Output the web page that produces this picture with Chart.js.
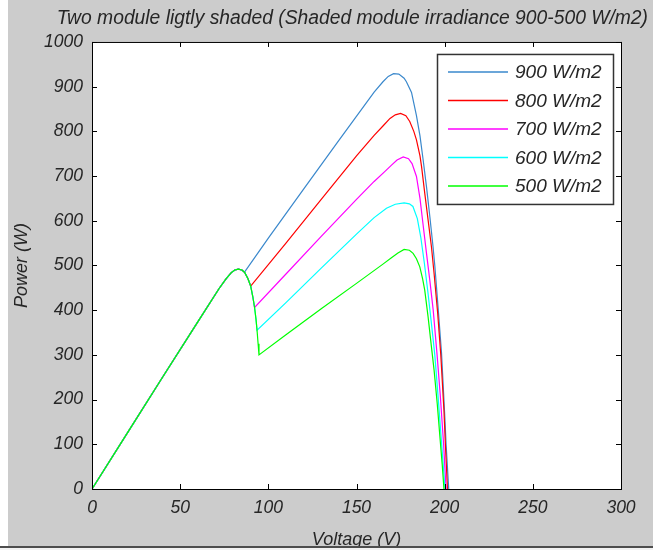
<!DOCTYPE html>
<html>
<head>
<meta charset="utf-8">
<title>P-V curves</title>
<script src="https://cdn.jsdelivr.net/npm/chart.js@4.4.1/dist/chart.umd.min.js"></script>
<style>
  html, body { margin: 0; padding: 0; background: #fff; }
  #wrap { width: 653px; height: 550px; }
</style>
</head>
<body>
<div id="wrap"><canvas id="pv" width="653" height="550"></canvas></div>
<script>
// irradiance on the shaded module
const labels = ["900 W/m2", "800 W/m2", "700 W/m2", "600 W/m2", "500 W/m2"];
const colors = ["#3a88cc", "#ff0000", "#ff00ff", "#00ffff", "#00ff00"];

// first (unshaded) module hump, shared by all curves up to their knee
const commonV = [0, 20, 40, 60, 72, 76, 79, 81, 83, 85, 86.5, 88.4, 90, 91.2, 92.2, 93, 93.6, 94.2, 94.7];
const commonP = [0, 125, 250, 374, 448, 470, 484, 490, 492, 490, 485, 471, 454, 430, 406, 380, 355, 325, 300];
// index in the common part where each curve turns up again
const knee = [10, 12, 14, 16, 18];

// second hump, per shaded irradiance
const v900 = [100, 120, 140, 160, 165, 168, 171, 174, 177, 178.3, 181.2, 184, 186, 187.8, 189.7, 191.6, 193.4, 194.4, 196.3, 198.2, 200.1, 200.8, 202.3];
const p900 = [561, 671, 780, 888, 911, 923, 929, 928, 919, 911, 887, 835, 790, 736, 676, 609, 542, 500, 405, 305, 160, 100, 0];

const v800 = [110, 130, 150, 160, 165, 169, 172, 175, 178, 180.2, 182.5, 184, 186, 186.9, 188.7, 190.6, 192.5, 194, 196, 197.8, 199.6, 200.4, 201.6];
const p800 = [550, 648, 745, 791, 812, 829, 837, 840, 835, 822, 800, 781, 745, 721, 662, 602, 542, 482, 395, 300, 175, 100, 0];

const v700 = [110, 130, 150, 160, 166, 170, 173, 176.5, 179.5, 181.5, 184, 186, 187.8, 189.7, 191.6, 193.5, 195.7, 197.5, 199.4, 200.8];
const p700 = [481, 565, 648, 688, 710, 725, 736, 743, 739, 728, 699, 650, 590, 527, 466, 400, 300, 210, 100, 0];

const v600 = [110, 130, 150, 160, 167, 172, 177, 180, 182, 184.5, 186.5, 188.5, 190.5, 192.5, 194.4, 196.3, 198.3, 200.2];
const p600 = [417, 494, 570, 607, 628, 637, 640, 638, 632, 605, 562, 505, 440, 370, 300, 205, 100, 0];

const v500 = [110, 130, 150, 165, 170, 173.5, 177, 180, 182.1, 184, 185.9, 187.5, 188.7, 190.6, 192.5, 194, 195.8, 197.3, 198.6, 199.6];
const p500 = [345, 403, 460, 503, 518, 528, 536, 534, 527, 515, 497, 470, 445, 385, 318, 266, 190, 117, 55, 0];

const ownV = [v900, v800, v700, v600, v500];
const ownP = [p900, p800, p700, p600, p500];

function curve(k, v, p) {
  const pts = [];
  for (let i = 0; i <= k; i++) pts.push({ x: commonV[i], y: commonP[i] });
  v.forEach((x, i) => pts.push({ x: x, y: p[i] }));
  return pts;
}

const TXT = "#262626";
const FONT = "'Liberation Sans', Arial, sans-serif";

// gray figure, white axes, inward ticks on all four sides, boxed legend
const matlabFrame = {
  id: "matlabFrame",
  beforeDraw(chart) {
    const { ctx, width, height, chartArea: a } = chart;
    ctx.save();
    ctx.fillStyle = "#ffffff";
    ctx.fillRect(0, 0, width, height);
    ctx.fillStyle = "#cccccc";
    ctx.fillRect(8, 0, width - 8, 546);
    ctx.fillStyle = "#ffffff";
    ctx.fillRect(a.left, a.top, a.right - a.left, a.bottom - a.top);
    ctx.restore();
  },
  afterDraw(chart) {
    const { ctx, width, chartArea: a, scales } = chart;
    ctx.save();
    ctx.strokeStyle = "#000";
    ctx.lineWidth = 1;
    ctx.beginPath();
    scales.x.ticks.forEach(t => {
      const px = Math.round(scales.x.getPixelForValue(t.value)) + 0.5;
      ctx.moveTo(px, a.bottom); ctx.lineTo(px, a.bottom - 5);
      ctx.moveTo(px, a.top); ctx.lineTo(px, a.top + 5);
    });
    scales.y.ticks.forEach(t => {
      const py = Math.round(scales.y.getPixelForValue(t.value)) + 0.5;
      ctx.moveTo(a.left, py); ctx.lineTo(a.left + 5, py);
      ctx.moveTo(a.right, py); ctx.lineTo(a.right - 5, py);
    });
    ctx.stroke();
    ctx.strokeRect(a.left + 0.5, a.top + 0.5, a.right - a.left, a.bottom - a.top);

    // legend
    const lx = a.right - 184, ly = a.top + 12, lw = 176, lh = 150;
    ctx.fillStyle = "#fff";
    ctx.fillRect(lx, ly, lw, lh);
    ctx.strokeStyle = "#333";
    ctx.lineWidth = 1.5;
    ctx.strokeRect(lx + 0.5, ly + 0.5, lw, lh);
    ctx.font = "italic 19px " + FONT;
    ctx.textBaseline = "middle";
    ctx.textAlign = "left";
    chart.data.datasets.forEach((ds, i) => {
      const y = ly + 18 + i * 28.5;
      ctx.strokeStyle = ds.borderColor;
      ctx.lineWidth = 1.5;
      ctx.beginPath();
      ctx.moveTo(lx + 11, y); ctx.lineTo(lx + 71, y);
      ctx.stroke();
      ctx.fillStyle = TXT;
      ctx.fillText(ds.label, lx + 78, y + 1);
    });

    // window edge under the figure
    ctx.fillStyle = "#4d4d4d";
    ctx.fillRect(0, 546, width, 2);
    ctx.fillStyle = "#f2f2f2";
    ctx.fillRect(0, 548, width, 2);
    ctx.restore();
  }
};

new Chart(document.getElementById("pv"), {
  type: "line",
  data: {
    datasets: labels.map((lab, i) => ({
      label: lab,
      data: curve(knee[i], ownV[i], ownP[i]),
      borderColor: colors[i],
      borderWidth: 1.2,
      pointRadius: 0,
      tension: 0,
      fill: false,
      order: labels.length - i
    }))
  },
  options: {
    responsive: false,
    animation: false,
    events: [],
    layout: { padding: { left: 0, right: 5, top: 0, bottom: 0 } },
    plugins: {
      legend: { display: false },
      tooltip: { enabled: false },
      title: {
        display: true,
        text: "Two module ligtly shaded (Shaded module irradiance 900-500 W/m2)",
        align: "end",
        color: TXT,
        font: { family: FONT, size: 19.3, style: "italic", weight: "normal" },
        padding: { top: 7, bottom: 11.8 }
      }
    },
    scales: {
      x: {
        type: "linear",
        min: 0,
        max: 300,
        grid: { display: false, drawTicks: false },
        border: { display: false },
        ticks: {
          stepSize: 50,
          padding: 8.5,
          color: TXT,
          font: { family: FONT, size: 17.5, style: "italic" },
          callback: v => String(v)
        },
        title: {
          display: true,
          text: "Voltage (V)",
          color: TXT,
          font: { family: FONT, size: 18, style: "italic", lineHeight: 1.1 },
          padding: { top: 0, bottom: 0 }
        },
        afterFit(s) { s.height = 61; s.paddingRight = 32; }
      },
      y: {
        min: 0,
        max: 1000,
        grid: { display: false, drawTicks: false },
        border: { display: false },
        ticks: {
          stepSize: 100,
          padding: 9,
          color: TXT,
          font: { family: FONT, size: 17.5, style: "italic" },
          callback: v => String(v)
        },
        title: {
          display: true,
          text: "Power (W)",
          color: TXT,
          font: { family: FONT, size: 18, style: "italic" },
          padding: { top: 11.2, bottom: 0 }
        },
        afterFit(s) { s.width = 92; }
      }
    }
  },
  plugins: [matlabFrame]
});
</script>
</body>
</html>
